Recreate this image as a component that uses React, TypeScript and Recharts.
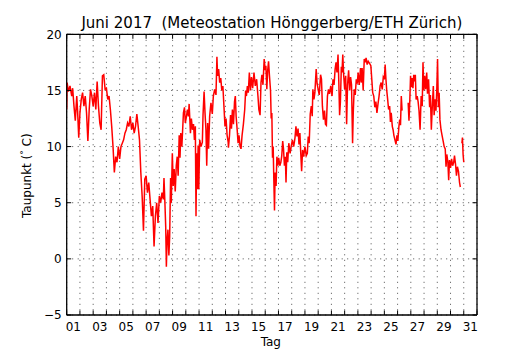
import React from 'react';
import { LineChart, Line, XAxis, YAxis, CartesianGrid } from 'recharts';

// time in days since 1 June 2017 00:00
const days: number[] = [
  0.00, 0.03, 0.13, 0.25, 0.38, 0.45, 0.55, 0.65, 0.76, 0.83, 0.91,
  1.00, 1.10, 1.20, 1.30, 1.40, 1.50, 1.60, 1.70, 1.80, 1.90,
  2.00, 2.10, 2.20, 2.30, 2.40, 2.50, 2.60, 2.70, 2.80, 2.90,
  3.00, 3.10, 3.20, 3.30, 3.40, 3.50, 3.60, 3.70, 3.80, 3.90,
  4.00, 4.10, 4.20, 4.30, 4.40, 4.50, 4.60, 4.70, 4.80, 4.90,
  5.00, 5.10, 5.20, 5.30, 5.40, 5.50, 5.60, 5.70, 5.80, 5.90,
  6.00, 6.10, 6.20, 6.30, 6.40, 6.50, 6.60, 6.70, 6.80, 6.90,
  7.00, 7.10, 7.20, 7.30, 7.35, 7.42, 7.48, 7.53, 7.58, 7.65, 7.72, 7.78, 7.85, 7.90, 7.98,
  8.05, 8.12, 8.20, 8.28, 8.35, 8.42, 8.50, 8.56, 8.62, 8.70, 8.76, 8.82, 8.90, 8.96,
  9.05, 9.12, 9.20, 9.25, 9.35, 9.42, 9.50, 9.58, 9.65, 9.72, 9.77, 9.82, 9.87, 9.93, 9.98,
  10.05, 10.15, 10.25, 10.30, 10.38, 10.45, 10.52, 10.58, 10.65, 10.72, 10.80, 10.90,
  11.00, 11.08, 11.18, 11.28, 11.35, 11.40, 11.48, 11.56, 11.64, 11.72, 11.80, 11.88, 11.96,
  12.04, 12.12, 12.20, 12.22, 12.30, 12.38, 12.45, 12.52, 12.60, 12.68, 12.74, 12.80, 12.88, 12.95,
  13.02, 13.10, 13.17, 13.25, 13.35, 13.45, 13.52, 13.58, 13.65, 13.72, 13.80, 13.88, 13.96,
  14.05, 14.15, 14.25, 14.35, 14.45, 14.52, 14.61, 14.68, 14.75, 14.83, 14.92,
  15.00, 15.05, 15.12, 15.18, 15.25, 15.32, 15.40, 15.45, 15.50, 15.55, 15.60, 15.65, 15.70, 15.75, 15.82, 15.88, 15.95,
  16.02, 16.10, 16.18, 16.25, 16.32, 16.38, 16.45, 16.52, 16.57, 16.63, 16.70, 16.78, 16.88, 16.96,
  17.05, 17.15, 17.25, 17.32, 17.40, 17.48, 17.55, 17.62, 17.68, 17.75, 17.82, 17.90,
  18.00, 18.10, 18.18, 18.25, 18.32, 18.40, 18.48, 18.55, 18.60, 18.68, 18.75, 18.85, 18.92,
  19.00, 19.08, 19.18, 19.25, 19.32, 19.40, 19.48, 19.55, 19.62, 19.70, 19.78, 19.86, 19.95,
  20.05, 20.12, 20.20, 20.28, 20.35, 20.42, 20.50, 20.56, 20.62, 20.68, 20.75, 20.80, 20.86, 20.92,
  21.00, 21.08, 21.15, 21.22, 21.30, 21.38, 21.45, 21.52, 21.60, 21.65, 21.72, 21.80, 21.88, 21.95,
  22.02, 22.10, 22.20, 22.25, 22.32, 22.40, 22.48, 22.55, 22.62, 22.70, 22.78, 22.88, 22.98,
  23.05, 23.12, 23.20, 23.28, 23.36, 23.44, 23.52, 23.60, 23.68, 23.76, 23.84, 23.92,
  24.00, 24.06, 24.12, 24.18, 24.25, 24.32, 24.40, 24.46, 24.52, 24.60, 24.66, 24.72, 24.80, 24.88, 24.95,
  25.02, 25.10, 25.16, 25.22, 25.28, 25.34, 25.55, 25.80, 25.86, 25.92, 25.98,
  26.04, 26.10, 26.16, 26.22, 26.28, 26.34, 26.40, 26.48, 26.55, 26.62, 26.70, 26.78, 26.86, 26.92, 26.98,
  27.05, 27.12, 27.20, 27.26, 27.34, 27.42, 27.48, 27.55, 27.62, 27.70, 27.76, 27.84, 27.90, 27.96,
  28.02, 28.08, 28.14, 28.20, 28.28, 28.36, 28.44, 28.52, 28.60, 28.66, 28.72, 28.80, 28.86, 28.92,
  29.00, 29.08, 29.16, 29.24, 29.30, 29.38, 29.45, 29.52, 29.60, 29.68, 29.74, 29.80, 29.86, 29.90, 29.95, 30.00,
];

// dew point in °C (null = missing data)
const dewPoint: (number | null)[] = [
  13.3, 15.7, 14.9, 15.4, 14.5, 15.2, 13.6, 12.3, 14.5, 13.0, 10.8,
  13.0, 14.2, 14.8, 13.6, 14.5, 13.0, 10.5, 13.3, 15.1, 14.5,
  13.6, 14.8, 13.3, 15.8, 13.6, 12.1, 11.5, 16.3, 16.4, 15.1,
  15.2, 14.2, 14.5, 13.3, 11.8, 10.0, 7.7, 9.1, 8.6, 10.0,
  8.9, 10.0, 10.3, 10.6, 11.2, 11.5, 12.1, 11.8, 12.7, 11.5,
  12.1, 11.2, 11.8, 12.9, 11.8, 10.6, 7.7, 5.6, 2.5, 7.1,
  7.4, 5.9, 6.8, 5.3, 3.8, 4.7, 1.1, 3.8, 5.0, 3.2,
  5.6, 5.0, 5.9, 5.3, 7.2, 5.0, 2.9, -0.7, 1.5, 2.6, 0.3, 2.0, 7.2, 5.0, 9.4,
  6.5, 8.0, 6.0, 8.3, 9.1, 7.4, 11.0, 9.0, 11.2, 10.0, 11.5, 13.0, 13.5, 12.1,
  12.7, 13.3, 12.7, 13.8, 11.2, 12.5, 11.5, 12.0, 10.6, 11.8, 3.8, 9.4, 6.2, 10.1, 6.2,
  10.6, 10.0, 10.4, 12.8, 14.9, 13.0, 11.5, 8.3, 12.1, 9.8, 12.7, 13.9,
  12.9, 14.5, 15.1, 14.6, 18.0, 16.3, 16.9, 15.7, 16.1, 15.0, 15.4, 13.6, 11.8,
  12.5, 11.0, 10.4, 9.9, 11.0, 12.8, 11.6, 13.3, 12.0, 14.0, 14.5, 12.7, 11.5, 10.3,
  11.0, 10.0, 9.8, 11.0, 12.0, 13.3, 15.0, 14.5, 15.4, 14.8, 16.6, 15.0, 16.2,
  15.2, 16.6, 15.4, 16.0, 14.5, 13.3, 12.8, 15.7, 16.4, 15.5, 17.8,
  16.8, 17.2, 15.1, 16.7, 17.6, 16.3, 15.0, 12.5, 13.0, 9.0, 10.0, 7.0, 4.3, 7.7, 6.5, 9.1, 8.3,
  9.0, 8.3, 8.6, 9.2, 10.5, 9.8, 8.3, 9.1, 6.8, 9.5, 8.6, 10.3, 9.4, 10.0,
  10.6, 10.0, 10.8, 11.8, 10.9, 11.6, 10.2, 11.2, 9.5, 7.8, 9.7, 9.1,
  10.0, 9.2, 9.4, 10.9, 10.3, 12.9, 13.6, 12.7, 15.1, 14.2, 14.8, 16.9, 15.6,
  15.1, 14.6, 16.4, 16.0, 13.6, 12.4, 13.2, 12.0, 11.9, 14.5, 15.1, 14.7, 15.4,
  14.5, 16.0, 15.5, 16.9, 17.5, 16.6, 18.2, 15.7, 12.8, 14.0, 17.1, 16.6, 18.2, 16.5,
  15.1, 16.3, 12.0, 15.5, 16.8, 15.0, 16.2, 15.5, 10.3, 13.0, 15.1, 14.6, 16.0, 15.6,
  16.6, 15.5, 17.0, 15.7, 17.0, 15.0, 17.8, 17.5, 17.9, 17.3, 17.6, 17.4, 17.2,
  16.0, 14.8, 14.5, 13.5, 14.0, 13.0, 13.8, 14.5, 15.4, 15.7, 15.1, 16.2,
  16.0, 17.3, 16.0, 15.0, 14.2, 13.3, 13.6, 12.2, 13.0, 11.8, 11.5, 11.0, 10.6, 10.2, 11.0,
  10.5, 11.8, 12.4, 11.9, 14.5, 13.2, null, 13.9, 12.3, 14.0, 16.3,
  15.3, 16.1, 15.2, 16.4, 15.8, 16.4, 14.2, 14.5, 14.0, 13.2, 11.5, 14.5, 13.6, 17.5, 15.0,
  16.3, 15.1, 16.6, 14.7, 16.0, 13.5, 14.6, 11.5, 13.5, 15.4, 12.8, 14.2, 13.2, 15.0,
  17.8, 13.5, 14.8, 12.4, 11.5, 11.0, 10.5, 10.0, 9.8, 8.2, 9.3, 8.6, 7.0, 8.8,
  8.1, 8.9, 8.3, 8.6, 9.2, 8.4, 7.4, 8.2, 7.8, 6.8, 6.4, null, 10.3, 10.8, 9.3, 8.6,
];

const dayTicks: number[] = Array.from({ length: 32 }, (_, i) => i);
const dayLabels: string[] = ['01', '03', '05', '07', '09', '11', '13', '15', '17', '19', '21', '23', '25', '27', '29', '31'];
const valueTicks: number[] = [-5, 0, 5, 10, 15, 20];

const TITLE = 'Juni 2017  (Meteostation Hönggerberg/ETH Zürich)';
const X_LABEL = 'Tag';

const data = days.map((t, i) => ({ t, v: dewPoint[i] }));
// labels sit at noon of the labelled day
const labelPositions = dayLabels.map((l) => Number(l) - 0.5);
const bottomTicks = [...dayTicks, ...labelPositions].sort((a, b) => a - b);

const FONT = 'DejaVu Sans, sans-serif';
const TICK_LEN = 4.5;

const BottomTick = (props: any) => {
  const { x, y, payload } = props;
  const val = payload.value;
  if (Number.isInteger(val)) {
    return <line x1={x} x2={x} y1={y} y2={y - TICK_LEN} stroke="#000" strokeWidth={1} />;
  }
  const lab = dayLabels.find((l) => Number(l) - 0.5 === val);
  if (!lab) return null;
  return (
    <text x={x} y={y + 16} textAnchor="middle" fontSize={12} fontFamily={FONT} fill="#000">
      {lab}
    </text>
  );
};

const TopTick = (props: any) => {
  const { x, y } = props;
  return <line x1={x} x2={x} y1={y} y2={y + TICK_LEN} stroke="#000" strokeWidth={1} />;
};

const LeftTick = (props: any) => {
  const { x, y, payload } = props;
  const v = payload.value;
  const txt = v < 0 ? '\u2212' + Math.abs(v) : String(v);
  return (
    <g>
      <line x1={x} x2={x + TICK_LEN} y1={y} y2={y} stroke="#000" strokeWidth={1} />
      <text x={x - 5} y={y} dy="0.36em" textAnchor="end" fontSize={12} fontFamily={FONT} fill="#000">
        {txt}
      </text>
    </g>
  );
};

const RightTick = (props: any) => {
  const { x, y } = props;
  return <line x1={x} x2={x - TICK_LEN} y1={y} y2={y} stroke="#000" strokeWidth={1} />;
};

const TitleLabel = (props: any) => {
  const vb = props.viewBox;
  return (
    <text
      x={vb.x + vb.width / 2}
      y={vb.y + vb.height - 6.3}
      textAnchor="middle"
      fontSize={15}
      fontFamily={FONT}
      fill="#000"
      xmlSpace="preserve"
      style={{ whiteSpace: 'pre' }}
    >
      {TITLE}
    </text>
  );
};

const XTitle = (props: any) => {
  const vb = props.viewBox;
  return (
    <text x={vb.x + vb.width / 2 - 1} y={vb.y + 30.5} textAnchor="middle" fontSize={12} fontFamily={FONT} fill="#000">
      {X_LABEL}
    </text>
  );
};

const YTitle = (props: any) => {
  const vb = props.viewBox;
  const cx = vb.x + 31.5;
  const cy = vb.y + vb.height / 2 + 1;
  return (
    <text x={cx} y={cy} textAnchor="middle" fontSize={12} fontFamily={FONT} fill="#000" transform={`rotate(-90, ${cx}, ${cy})`}>
      Taupunkt (<tspan fontSize={9} dy={-4}>°</tspan>
      <tspan dy={4}> C)</tspan>
    </text>
  );
};

const axisLine = { stroke: '#000', strokeWidth: 1.3 };

export default function App() {
  return (
    <div style={{ position: 'absolute', left: 0, top: 0, width: 530, height: 350, background: '#fff' }}>
      <LineChart width={530} height={350} data={data} margin={{ top: 0, right: 0, bottom: 0, left: 0 }} style={{ fontFamily: FONT }}>
        <XAxis
          xAxisId="t"
          orientation="top"
          type="number"
          dataKey="t"
          domain={[0, 31]}
          ticks={dayTicks}
          interval={0}
          height={34.3}
          tickSize={0}
          tickMargin={0}
          tickLine={false}
          tick={<TopTick />}
          axisLine={axisLine}
          allowDataOverflow
          label={<TitleLabel />}
        />
        <XAxis
          xAxisId="b"
          orientation="bottom"
          type="number"
          dataKey="t"
          domain={[0, 31]}
          ticks={bottomTicks}
          interval={0}
          height={35}
          tickSize={0}
          tickMargin={0}
          tickLine={false}
          tick={<BottomTick />}
          axisLine={axisLine}
          allowDataOverflow
          label={<XTitle />}
        />
        <YAxis
          yAxisId="l"
          orientation="left"
          type="number"
          domain={[-5, 20]}
          ticks={valueTicks}
          interval={0}
          width={66.7}
          tickSize={0}
          tickMargin={0}
          tickLine={false}
          tick={<LeftTick />}
          axisLine={axisLine}
          allowDataOverflow
          label={<YTitle />}
        />
        <YAxis
          yAxisId="r"
          orientation="right"
          type="number"
          domain={[-5, 20]}
          ticks={valueTicks}
          interval={0}
          width={53}
          tickSize={0}
          tickMargin={0}
          tickLine={false}
          tick={<RightTick />}
          axisLine={axisLine}
          allowDataOverflow
        />
        <CartesianGrid
          xAxisId="t"
          yAxisId="l"
          stroke="#000"
          strokeWidth={0.7}
          strokeDasharray="1 4.5"
        />
        <Line
          xAxisId="b"
          yAxisId="l"
          type="linear"
          dataKey="v"
          stroke="#ff0000"
          strokeWidth={1.5}
          dot={false}
          activeDot={false}
          connectNulls={false}
          isAnimationActive={false}
        />
      </LineChart>
    </div>
  );
}
